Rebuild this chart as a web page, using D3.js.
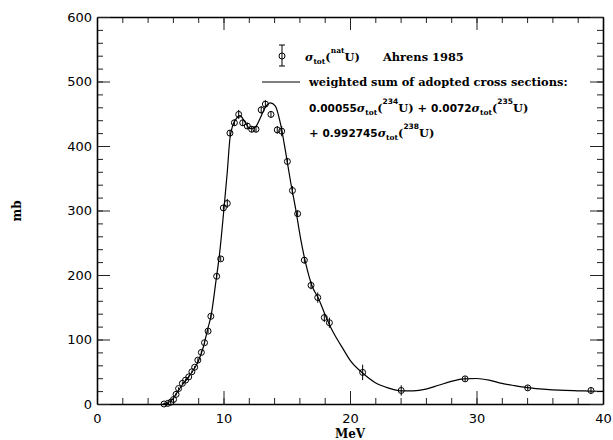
<!DOCTYPE html>
<html>
<head>
<meta charset="utf-8">
<script src="https://cdn.jsdelivr.net/npm/d3@7"></script>
<style>
  body { margin: 0; background: #fff; }
  svg { display: block; }
  .num { font-family: "DejaVu Sans", sans-serif; }
  .word { font-family: "DejaVu Serif", serif; font-weight: bold; }
</style>
</head>
<body>
<svg id="chart" width="613" height="440"></svg>
<script>
// measured points (Ahrens 1985), energy in MeV, cross section in mb
const energy = [5.3, 5.6, 5.85, 6.05, 6.25, 6.45, 6.75, 7.0, 7.25, 7.5, 7.72, 7.97, 8.25, 8.5, 8.78, 9.0,
  9.46, 9.78, 9.99, 10.3, 10.51, 10.86, 11.2, 11.52, 11.88, 12.23, 12.57, 12.98, 13.31, 13.75,
  14.25, 14.6, 15.05, 15.45, 15.86, 16.39, 16.92, 17.45, 17.97, 18.37, 21.0, 24.05, 29.1, 34.05, 39.05];
const sigma = [0, 1, 3, 7, 15, 24, 32, 37, 42, 50, 57, 68, 80, 95, 113, 136,
  198, 225, 304, 311, 420, 436, 449, 436, 431, 426, 426, 456, 465, 449,
  425, 423, 376, 331, 295, 223, 184, 165, 134, 126, 49, 21, 39, 25, 21];
const sigmaErr = [1, 1, 1, 2, 2, 2, 2, 2, 2, 2, 2, 3, 3, 3, 3, 3,
  4, 4, 5, 7, 5, 5, 7, 5, 5, 5, 5, 6, 6, 5,
  6, 8, 5, 7, 5, 5, 6, 8, 7, 8, 12, 8, 4, 4, 5];

// weighted sum curve
const curveE = [5.2, 5.6, 6.0, 6.4, 6.8, 7.2, 7.6, 8.0, 8.4, 8.8, 9.0, 9.4, 9.7, 10.0, 10.3, 10.5, 10.7,
  11.0, 11.3, 11.7, 12.1, 12.5, 12.9, 13.3, 13.7, 14.1, 14.5, 14.9, 15.3, 15.7, 16.1, 16.5,
  17.0, 17.5, 18.0, 18.5, 19.0, 19.5, 20, 21, 22, 23, 24, 25, 26, 27, 28, 29, 30, 31, 32,
  33, 34, 35, 36, 37, 38, 39, 40];
const curveS = [0, 2, 8, 20, 31, 41, 52, 66, 88, 120, 135, 190, 235, 295, 360, 410, 430,
  442, 447, 437, 427, 429, 443, 460, 467, 462, 435, 392, 345, 303, 256, 218,
  183, 164, 140, 118, 100, 84, 68, 48, 33, 25, 20.5, 20.5, 23, 29, 35, 39, 39.5, 37, 32,
  28.5, 25.5, 23.5, 22, 21, 20.5, 20, 19.5];

const xMajor = [0, 10, 20, 30, 40];
const yMajor = [0, 100, 200, 300, 400, 500, 600];

const svg = d3.select('#chart');
const x = d3.scaleLinear().domain([0, 40]).range([97, 603]);
const y = d3.scaleLinear().domain([0, 600]).range([404, 17]);

// axes, ticks pointing inward on all four sides
function axisPair(make, scale, minor, major, pos, sizeMinor, sizeMajor, labels) {
  const gMin = svg.append('g').attr('transform', pos)
    .call(make(scale).tickValues(minor).tickSize(sizeMinor).tickSizeOuter(0).tickFormat(''));
  const gMaj = svg.append('g').attr('transform', pos)
    .call(make(scale).tickValues(major).tickSize(sizeMajor).tickSizeOuter(0)
      .tickPadding(labels ? 6 : 0).tickFormat(labels ? d3.format('d') : ''));
  [gMin, gMaj].forEach(g => {
    g.select('.domain').attr('stroke', '#000').attr('stroke-width', 1.6);
    g.selectAll('.tick line').attr('stroke', '#222').attr('stroke-width', 1);
  });
  gMin.select('.domain').remove();
  return gMaj;
}
const xMinor = d3.range(0, 40.1, 2);
const yMinor = d3.range(0, 600.1, 20);

const gx = axisPair(d3.axisBottom, x, xMinor, xMajor, 'translate(0,404)', -6, -13, true);
gx.selectAll('.tick text').attr('class', 'num').attr('font-size', 13).attr('fill', '#000')
  .attr('y', 10);
axisPair(d3.axisTop, x, xMinor, xMajor, 'translate(0,17)', -6, -13, false);
const gy = axisPair(d3.axisLeft, y, yMinor, yMajor, 'translate(97,0)', -6, -13, true);
gy.selectAll('.tick text').attr('class', 'num').attr('font-size', 13).attr('fill', '#000')
  .attr('x', -5);
axisPair(d3.axisRight, y, yMinor, yMajor, 'translate(603,0)', -6, -13, false);
svg.selectAll('.domain').attr('fill', 'none');

// axis titles
svg.append('text').attr('class', 'word').attr('x', 350).attr('y', 438)
  .attr('text-anchor', 'middle').attr('font-size', 12).text('MeV');
svg.append('text').attr('class', 'word').attr('font-size', 12)
  .attr('text-anchor', 'middle')
  .attr('transform', 'translate(21,211) rotate(-90)').text('mb');

// curve
const line = d3.line().x(d => x(d[0])).y(d => y(d[1])).curve(d3.curveMonotoneX);
svg.append('path').datum(d3.zip(curveE, curveS))
  .attr('d', line).attr('fill', 'none').attr('stroke', '#000').attr('stroke-width', 1.2);

// data points with error bars
const pts = svg.append('g').selectAll('g').data(d3.range(energy.length)).join('g');
pts.append('line')
  .attr('x1', i => x(energy[i])).attr('x2', i => x(energy[i]))
  .attr('y1', i => y(sigma[i] - sigmaErr[i])).attr('y2', i => y(sigma[i] + sigmaErr[i]))
  .attr('stroke', '#000').attr('stroke-width', 1);
pts.append('circle')
  .attr('cx', i => x(energy[i])).attr('cy', i => y(sigma[i])).attr('r', 3)
  .attr('fill', 'none').attr('stroke', '#000').attr('stroke-width', 1);

// legend
const leg = svg.append('g');
leg.append('line').attr('x1', 282).attr('x2', 282).attr('y1', 45).attr('y2', 66)
  .attr('stroke', '#000');
leg.append('line').attr('x1', 279).attr('x2', 285).attr('y1', 45).attr('y2', 45).attr('stroke', '#000');
leg.append('line').attr('x1', 279).attr('x2', 285).attr('y1', 66).attr('y2', 66).attr('stroke', '#000');
leg.append('circle').attr('cx', 282).attr('cy', 56).attr('r', 3)
  .attr('fill', 'none').attr('stroke', '#000');
leg.append('line').attr('x1', 262).attr('x2', 300).attr('y1', 82).attr('y2', 82)
  .attr('stroke', '#000').attr('stroke-width', 1.2);

// text segments: [text, kind]  kind: w=word, n=number, s=sigma, b=subscript, p=superscript
function richText(xPos, yPos, segs) {
  const t = leg.append('text').attr('x', xPos).attr('y', yPos).attr('font-size', 11.4);
  segs.forEach(([str, kind]) => {
    const s = t.append('tspan').text(str);
    if (kind === 'n') s.attr('class', 'num').attr('font-weight', 'bold').attr('font-size', 10.5);
    else if (kind === 's') s.attr('font-family', 'DejaVu Serif').attr('font-style', 'italic').attr('font-weight', 'bold');
    else if (kind === 'b') s.attr('class', 'word').attr('font-size', 7.5).attr('dy', 3);
    else if (kind === 'p') s.attr('class', 'num').attr('font-weight', 'bold').attr('font-size', 7.5).attr('dy', -8);
    else if (kind === 'pw') s.attr('class', 'word').attr('font-size', 7.5).attr('dy', -8);
    else s.attr('class', 'word');
  });
  return t;
}
function sigTot(nuc) {
  return [['σ', 's'], ['tot', 'b'], ['(', 'w'], [nuc, /\d/.test(nuc) ? 'p' : 'pw'], ['U)', 'w']];
}
// undo baseline shifts after sub/superscripts
function fixShifts(t) {
  t.selectAll('tspan').each(function () {
    const s = d3.select(this);
    if (s.text() === '(') s.attr('dy', -3);
    if (s.text() === 'U)') s.attr('dy', 8);
  });
}
fixShifts(richText(305, 61, [...sigTot('nat')]));
richText(383, 61, [['Ahrens 1985', 'w']]);
richText(309, 86, [['weighted sum of adopted cross sections:', 'w']]);
fixShifts(richText(309, 112, [['0.00055', 'n'], ...sigTot('234'), [' + ', 'w'], ['0.0072', 'n'], ...sigTot('235')]));
fixShifts(richText(309, 137, [['+ ', 'w'], ['0.992745', 'n'], ...sigTot('238')]));
</script>
</body>
</html>
